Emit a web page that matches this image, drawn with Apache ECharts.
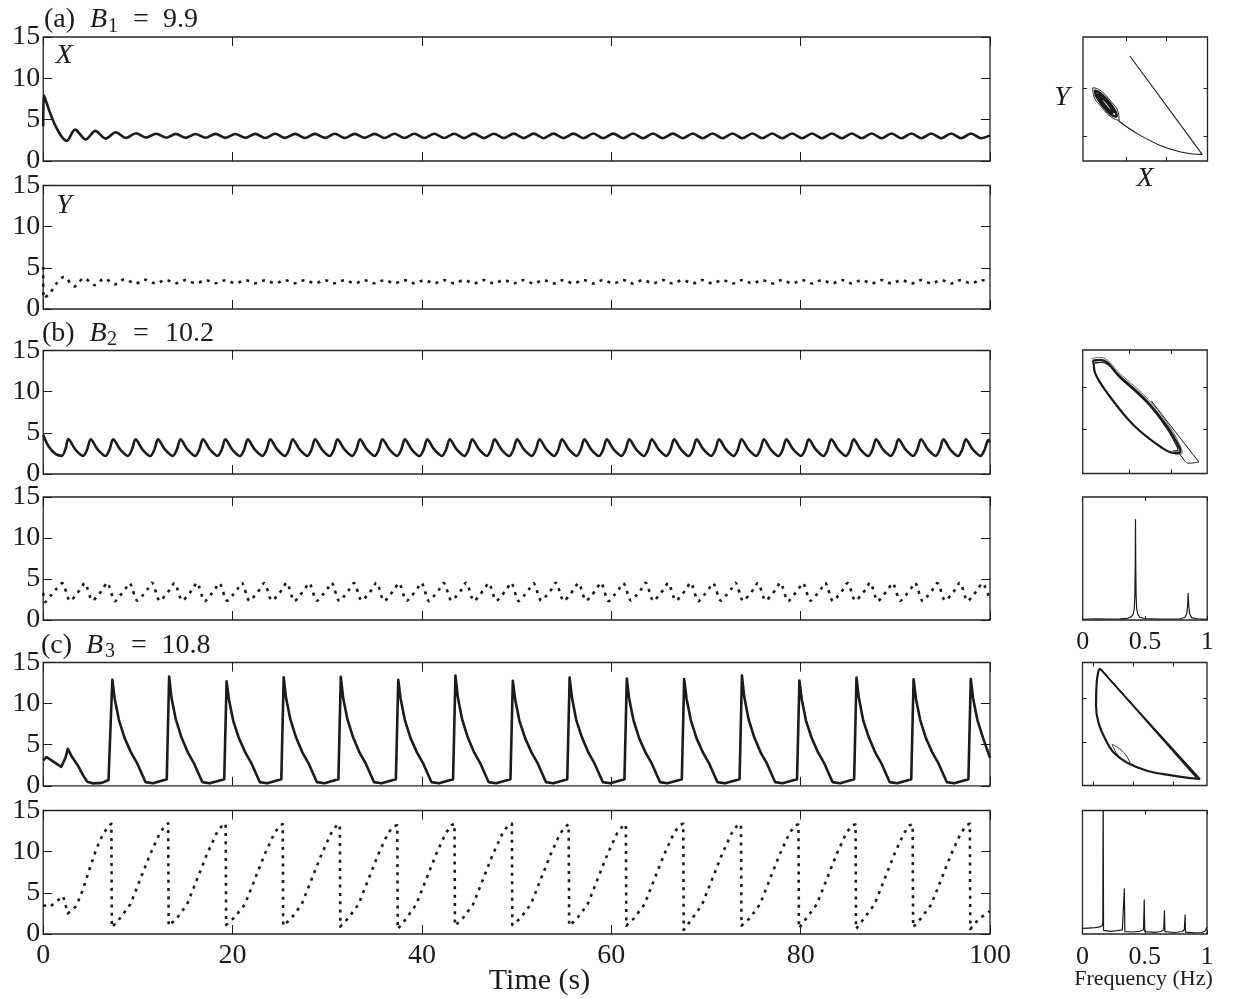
<!DOCTYPE html>
<html>
<head>
<meta charset="utf-8">
<script src="https://cdn.jsdelivr.net/npm/echarts@6/dist/echarts.min.js"></script>
<style>
  html, body { margin: 0; padding: 0; background: #fff; }
  #chart { width: 1237px; height: 999px; }
</style>
</head>
<body>
<div id="chart"></div>
<script>
// ---------- time series: (t [s], value) ----------
const aX = [[0,4.2],[0.08,7.95],[0.4,6.9],[0.9,5.3],[1.4,4.0],[1.95,2.95],[2.47,2.43],[3.36,3.8],[4.5,2.6],[5.5,3.64],[6.6,2.71],[7.65,3.48],[8.74,2.79],[9.8,3.36],[10.87,2.83],[11.93,3.3],[12.98,2.82],
[14.0,3.28],[15.05,2.8],[16.1,3.27],[17.15,2.81],[18.2,3.28],[19.25,2.8],[20.3,3.27],[21.35,2.8],[22.4,3.28],[23.45,2.79],[24.5,3.29],[25.55,2.8],[26.6,3.28],[27.65,2.79],[28.7,3.28],[29.75,2.8],[30.8,3.29],[31.85,2.79],[32.9,3.28],[33.95,2.8],[35.0,3.28],[36.05,2.79],[37.1,3.29],[38.15,2.78],[39.2,3.3],[40.25,2.78],[41.3,3.3],[42.35,2.78],[43.4,3.3],[44.45,2.77],[45.5,3.31],[46.55,2.77],[47.6,3.3],[48.65,2.77],[49.7,3.31],[50.75,2.77],[51.8,3.31],[52.85,2.76],[53.9,3.31],[54.95,2.77],[56.0,3.31],[57.05,2.76],[58.1,3.32],[59.15,2.76],[60.2,3.31],[61.25,2.76],[62.3,3.32],[63.35,2.76],[64.4,3.32],[65.45,2.76],[66.5,3.31],[67.55,2.76],[68.6,3.32],[69.65,2.75],[70.7,3.32],[71.75,2.76],[72.8,3.32],[73.85,2.75],[74.9,3.32],[75.95,2.76],[77.0,3.32],[78.05,2.75],[79.1,3.32],[80.15,2.75],[81.2,3.32],[82.25,2.76],[83.3,3.32],[84.35,2.75],[85.4,3.32],[86.45,2.75],[87.5,3.32],[88.55,2.75],[89.6,3.33],[90.65,2.75],[91.7,3.32],[92.75,2.75],[93.8,3.32],[94.85,2.75],[95.9,3.32],[96.95,2.75],[98.0,3.32],[99.05,2.75],[100,3.1]];

const aY = [[0,5.1],[0.05,1.3],[0.7,1.9],[1.4,3.1],[2.2,3.9],[3.3,2.75],[4.3,3.75],[5.45,2.9],[6.45,3.7],[7.6,3.0],[8.6,3.62],[9.75,3.08],[10.75,3.56],[11.9,3.1],[12.95,3.53],[14.0,3.12],[15.05,3.52],[16.1,3.12],[17.15,3.5],[18.2,3.13],[19.25,3.5],[20.3,3.13],[21.35,3.5],[22.4,3.13],[23.45,3.5],[24.5,3.13],[25.55,3.5],[26.6,3.13],[27.65,3.5],[28.7,3.13],[29.75,3.5],[30.8,3.13],[31.85,3.5],[32.9,3.12],[33.95,3.5],[35.0,3.12],[36.05,3.51],[37.1,3.12],[38.15,3.51],[39.2,3.12],[40.25,3.51],[41.3,3.11],[42.35,3.51],[43.4,3.11],[44.45,3.51],[45.5,3.11],[46.55,3.52],[47.6,3.11],[48.65,3.51],[49.7,3.11],[50.75,3.52],[51.8,3.1],[52.85,3.52],[53.9,3.11],[54.95,3.52],[56.0,3.1],[57.05,3.52],[58.1,3.1],[59.15,3.52],[60.2,3.1],[61.25,3.52],[62.3,3.1],[63.35,3.52],[64.4,3.1],[65.45,3.52],[66.5,3.1],[67.55,3.52],[68.6,3.1],[69.65,3.52],[70.7,3.1],[71.75,3.52],[72.8,3.1],[73.85,3.52],[74.9,3.1],[75.95,3.52],[77.0,3.1],[78.05,3.52],[79.1,3.1],[80.15,3.52],[81.2,3.1],[82.25,3.52],[83.3,3.1],[84.35,3.52],[85.4,3.1],[86.45,3.52],[87.5,3.1],[88.55,3.52],[89.6,3.1],[90.65,3.52],[91.7,3.1],[92.75,3.52],[93.8,3.1],[94.85,3.52],[95.9,3.1],[96.95,3.52],[98.0,3.1],[99.05,3.52],[100,3.3]];

const bX = [[0,4.75],[0.6,3.3],[1.3,2.45],[1.95,2.2],[2.35,3.0],
[2.65,4.25],[3.4,2.95],[4.2,2.2],[4.63,2.95],[5.02,4.2],[5.77,2.95],[6.57,2.19],[7.0,2.95],
[7.39,4.22],[8.14,2.95],[8.94,2.2],[9.37,2.95],[9.76,4.2],[10.51,2.94],[11.31,2.19],[11.74,2.95],
[12.13,4.21],[12.88,2.95],[13.68,2.2],[14.11,2.95],[14.5,4.2],[15.25,2.95],[16.05,2.19],[16.48,2.95],
[16.87,4.22],[17.62,2.95],[18.42,2.2],[18.85,2.95],[19.24,4.2],[19.99,2.94],[20.79,2.19],[21.22,2.95],
[21.61,4.21],[22.36,2.95],[23.16,2.2],[23.59,2.95],[23.98,4.2],[24.73,2.95],[25.53,2.19],[25.96,2.95],
[26.35,4.22],[27.1,2.95],[27.9,2.2],[28.33,2.95],[28.72,4.2],[29.47,2.94],[30.27,2.19],[30.7,2.95],
[31.09,4.21],[31.84,2.95],[32.64,2.2],[33.07,2.95],[33.46,4.2],[34.21,2.95],[35.01,2.19],[35.44,2.95],
[35.83,4.22],[36.58,2.95],[37.38,2.2],[37.81,2.95],[38.2,4.2],[38.95,2.94],[39.75,2.19],[40.18,2.95],
[40.57,4.21],[41.32,2.95],[42.12,2.2],[42.55,2.95],[42.94,4.2],[43.69,2.95],[44.49,2.19],[44.92,2.95],
[45.31,4.22],[46.06,2.95],[46.86,2.2],[47.29,2.95],[47.68,4.2],[48.43,2.94],[49.23,2.19],[49.66,2.95],
[50.05,4.21],[50.8,2.95],[51.6,2.2],[52.03,2.95],[52.42,4.2],[53.17,2.95],[53.97,2.19],[54.4,2.95],
[54.79,4.22],[55.54,2.95],[56.34,2.2],[56.77,2.95],[57.16,4.2],[57.91,2.94],[58.71,2.19],[59.14,2.95],
[59.53,4.21],[60.28,2.95],[61.08,2.2],[61.51,2.95],[61.9,4.2],[62.65,2.95],[63.45,2.19],[63.88,2.95],
[64.27,4.22],[65.02,2.95],[65.82,2.2],[66.25,2.95],[66.64,4.2],[67.39,2.94],[68.19,2.19],[68.62,2.95],
[69.01,4.21],[69.76,2.95],[70.56,2.2],[70.99,2.95],[71.38,4.2],[72.13,2.95],[72.93,2.19],[73.36,2.95],
[73.75,4.22],[74.5,2.95],[75.3,2.2],[75.73,2.95],[76.12,4.2],[76.87,2.94],[77.67,2.19],[78.1,2.95],
[78.49,4.21],[79.24,2.95],[80.04,2.2],[80.47,2.95],[80.86,4.2],[81.61,2.95],[82.41,2.19],[82.84,2.95],
[83.23,4.22],[83.98,2.95],[84.78,2.2],[85.21,2.95],[85.6,4.2],[86.35,2.94],[87.15,2.19],[87.58,2.95],
[87.97,4.21],[88.72,2.95],[89.52,2.2],[89.95,2.95],[90.34,4.2],[91.09,2.95],[91.89,2.19],[92.32,2.95],
[92.71,4.22],[93.46,2.95],[94.26,2.2],[94.69,2.95],[95.08,4.2],[95.83,2.94],[96.63,2.19],[97.06,2.95],
[97.45,4.21],[98.2,2.95],[99.0,2.2],[99.43,2.95],[99.82,4.15],[100,3.85]];

const bY = [[0,3.3],[0.2,2.2],[0.75,2.9],[1.4,3.8],[2.0,4.5],
[2.85,2.3],[3.4,3.0],[3.95,3.8],[4.37,4.5],[5.22,2.35],[5.77,3.0],[6.32,3.8],[6.74,4.55],
[7.59,2.3],[8.14,3.0],[8.69,3.8],[9.11,4.5],[9.96,2.35],[10.51,3.0],[11.06,3.8],[11.48,4.55],
[12.33,2.3],[12.88,3.0],[13.43,3.8],[13.85,4.5],[14.7,2.35],[15.25,3.0],[15.8,3.8],[16.22,4.55],
[17.07,2.3],[17.62,3.0],[18.17,3.8],[18.59,4.5],[19.44,2.35],[19.99,3.0],[20.54,3.8],[20.96,4.55],
[21.81,2.3],[22.36,3.0],[22.91,3.8],[23.33,4.5],[24.18,2.35],[24.73,3.0],[25.28,3.8],[25.7,4.55],
[26.55,2.3],[27.1,3.0],[27.65,3.8],[28.07,4.5],[28.92,2.35],[29.47,3.0],[30.02,3.8],[30.44,4.55],
[31.29,2.3],[31.84,3.0],[32.39,3.8],[32.81,4.5],[33.66,2.35],[34.21,3.0],[34.76,3.8],[35.18,4.55],
[36.03,2.3],[36.58,3.0],[37.13,3.8],[37.55,4.5],[38.4,2.35],[38.95,3.0],[39.5,3.8],[39.92,4.55],
[40.77,2.3],[41.32,3.0],[41.87,3.8],[42.29,4.5],[43.14,2.35],[43.69,3.0],[44.24,3.8],[44.66,4.55],
[45.51,2.3],[46.06,3.0],[46.61,3.8],[47.03,4.5],[47.88,2.35],[48.43,3.0],[48.98,3.8],[49.4,4.55],
[50.25,2.3],[50.8,3.0],[51.35,3.8],[51.77,4.5],[52.62,2.35],[53.17,3.0],[53.72,3.8],[54.14,4.55],
[54.99,2.3],[55.54,3.0],[56.09,3.8],[56.51,4.5],[57.36,2.35],[57.91,3.0],[58.46,3.8],[58.88,4.55],
[59.73,2.3],[60.28,3.0],[60.83,3.8],[61.25,4.5],[62.1,2.35],[62.65,3.0],[63.2,3.8],[63.62,4.55],
[64.47,2.3],[65.02,3.0],[65.57,3.8],[65.99,4.5],[66.84,2.35],[67.39,3.0],[67.94,3.8],[68.36,4.55],
[69.21,2.3],[69.76,3.0],[70.31,3.8],[70.73,4.5],[71.58,2.35],[72.13,3.0],[72.68,3.8],[73.1,4.55],
[73.95,2.3],[74.5,3.0],[75.05,3.8],[75.47,4.5],[76.32,2.35],[76.87,3.0],[77.42,3.8],[77.84,4.55],
[78.69,2.3],[79.24,3.0],[79.79,3.8],[80.21,4.5],[81.06,2.35],[81.61,3.0],[82.16,3.8],[82.58,4.55],
[83.43,2.3],[83.98,3.0],[84.53,3.8],[84.95,4.5],[85.8,2.35],[86.35,3.0],[86.9,3.8],[87.32,4.55],
[88.17,2.3],[88.72,3.0],[89.27,3.8],[89.69,4.5],[90.54,2.35],[91.09,3.0],[91.64,3.8],[92.06,4.55],
[92.91,2.3],[93.46,3.0],[94.01,3.8],[94.43,4.5],[95.28,2.35],[95.83,3.0],[96.38,3.8],[96.8,4.55],
[97.65,2.3],[98.2,3.0],[98.75,3.8],[99.17,4.5],[100,2.45]];

const cX = [[0,3.1],[0.35,3.5],[1.0,3.0],[1.9,2.3],[2.35,3.4],[2.6,4.5],[3.0,3.6],[3.7,2.4],[4.2,1.3],[4.65,0.5],[5.2,0.3],[6.2,0.35],[6.9,0.7],
[7.05,0.8],[7.3,12.9],[7.55,10.6],[8.0,8.0],[8.6,5.8],[9.3,4.0],[9.9,2.8],[10.4,1.5],[10.8,0.45],[11.6,0.3],
[13.05,0.8],[13.3,13.3],[13.55,10.7],[14.0,8.1],[14.6,5.9],[15.3,4.0],[15.9,2.8],[16.4,1.5],[16.8,0.45],[17.6,0.3],
[19.12,0.8],[19.37,12.7],[19.62,10.5],[20.07,7.9],[20.67,5.8],[21.37,4.0],[21.97,2.8],[22.47,1.5],[22.87,0.45],[23.67,0.3],
[25.15,0.8],[25.4,13.2],[25.65,10.7],[26.1,8.1],[26.7,5.9],[27.4,4.0],[28.0,2.8],[28.5,1.5],[28.9,0.45],[29.7,0.3],
[31.18,0.8],[31.43,13.25],[31.68,10.7],[32.13,8.1],[32.73,5.9],[33.43,4.0],[34.03,2.8],[34.53,1.5],[34.93,0.45],[35.73,0.3],
[37.25,0.8],[37.5,12.9],[37.75,10.6],[38.2,8.0],[38.8,5.8],[39.5,4.0],[40.1,2.8],[40.6,1.5],[41.0,0.45],[41.8,0.3],
[43.29,0.8],[43.54,13.4],[43.79,10.8],[44.24,8.1],[44.84,5.9],[45.54,4.0],[46.14,2.8],[46.64,1.5],[47.04,0.45],[47.84,0.3],
[49.35,0.8],[49.6,12.76],[49.85,10.5],[50.3,7.9],[50.9,5.8],[51.6,4.0],[52.2,2.8],[52.7,1.5],[53.1,0.45],[53.9,0.3],
[55.35,0.8],[55.6,13.17],[55.85,10.7],[56.3,8.0],[56.9,5.9],[57.6,4.0],[58.2,2.8],[58.7,1.5],[59.1,0.45],[59.9,0.3],
[61.39,0.8],[61.64,13.05],[61.89,10.6],[62.34,8.0],[62.94,5.8],[63.64,4.0],[64.24,2.8],[64.74,1.5],[65.14,0.45],[65.94,0.3],
[67.45,0.8],[67.7,13.0],[67.95,10.6],[68.4,8.0],[69.0,5.8],[69.7,4.0],[70.3,2.8],[70.8,1.5],[71.2,0.45],[72.0,0.3],
[73.55,0.8],[73.8,13.4],[74.05,10.8],[74.5,8.1],[75.1,5.9],[75.8,4.0],[76.4,2.8],[76.9,1.5],[77.3,0.45],[78.1,0.3],
[79.62,0.8],[79.87,12.8],[80.12,10.5],[80.57,7.9],[81.17,5.8],[81.87,4.0],[82.47,2.8],[82.97,1.5],[83.37,0.45],[84.17,0.3],
[85.65,0.8],[85.9,13.17],[86.15,10.7],[86.6,8.0],[87.2,5.9],[87.9,4.0],[88.5,2.8],[89.0,1.5],[89.4,0.45],[90.2,0.3],
[91.68,0.8],[91.93,12.97],[92.18,10.6],[92.63,8.0],[93.23,5.8],[93.93,4.0],[94.53,2.8],[95.03,1.5],[95.43,0.45],[96.23,0.3],
[97.72,0.8],[97.97,13.0],[98.22,10.6],[98.67,8.0],[99.27,5.8],[100,3.4]];

const cY = [[0,3.5],[0.7,3.3],[2.1,4.6],[2.6,2.5],[3.5,3.4],[4.2,5.4],[4.9,7.9],[5.6,10.3],[6.3,12.1],[6.9,13.1],[7.2,13.4],
[7.25,0.8],[8.1,1.9],[9.2,3.6],[10.2,6.5],[11.3,9.7],[12.3,12.2],[12.9,13.2],[13.2,13.45],
[13.25,1.0],[14.1,1.9],[15.2,3.6],[16.2,6.5],[17.3,9.7],[18.3,12.2],[18.9,13.2],[19.27,13.4],
[19.32,1.1],[20.2,2.0],[21.3,3.6],[22.3,6.5],[23.4,9.7],[24.4,12.2],[25.0,13.2],[25.3,13.35],
[25.35,1.0],[26.2,1.9],[27.3,3.6],[28.3,6.5],[29.4,9.7],[30.4,12.2],[31.0,13.2],[31.33,13.3],
[31.38,0.9],[32.2,1.9],[33.3,3.6],[34.3,6.5],[35.4,9.7],[36.4,12.2],[37.0,13.1],[37.4,13.2],
[37.45,0.6],[38.3,1.8],[39.4,3.6],[40.4,6.5],[41.5,9.7],[42.5,12.2],[43.1,13.2],[43.44,13.4],
[43.49,1.0],[44.3,1.9],[45.4,3.6],[46.4,6.5],[47.5,9.7],[48.5,12.2],[49.1,13.2],[49.5,13.4],
[49.55,1.1],[50.4,1.9],[51.5,3.6],[52.5,6.5],[53.6,9.7],[54.6,12.2],[55.2,13.1],[55.5,13.3],
[55.55,1.0],[56.4,1.9],[57.5,3.6],[58.5,6.5],[59.6,9.7],[60.6,12.2],[61.2,13.1],[61.54,13.3],
[61.59,1.0],[62.4,1.9],[63.5,3.6],[64.5,6.5],[65.6,9.7],[66.6,12.2],[67.2,13.2],[67.6,13.4],
[67.65,0.5],[68.5,1.8],[69.6,3.6],[70.6,6.5],[71.7,9.7],[72.7,12.2],[73.3,13.2],[73.7,13.3],
[73.75,1.0],[74.6,1.9],[75.7,3.6],[76.7,6.5],[77.8,9.7],[78.8,12.2],[79.4,13.2],[79.77,13.3],
[79.82,0.7],[80.6,1.9],[81.7,3.6],[82.7,6.5],[83.8,9.7],[84.8,12.2],[85.4,13.2],[85.8,13.3],
[85.85,0.6],[86.7,1.9],[87.8,3.6],[88.8,6.5],[89.9,9.7],[90.9,12.2],[91.5,13.2],[91.83,13.3],
[91.88,0.8],[92.7,1.9],[93.8,3.6],[94.8,6.5],[95.9,9.7],[96.9,12.2],[97.5,13.2],[97.87,13.4],
[97.92,0.6],[98.8,1.8],[100,2.8]];

// ---------- phase portraits: (X, Y) ----------
const phaseALine   = [[4.2,5.3],[7.77,1.27]];
const phaseACurve  = [[7.77,1.27],[7.31,1.29],[6.66,1.38],[5.67,1.65],[4.69,2.06],[4.04,2.4],[3.62,2.67]];
const phaseAOuter  = [[3.67,2.67],[3.63,2.97],[3.23,3.48],[2.71,3.91],[2.37,4.0],[2.41,3.71],[2.81,3.2],[3.33,2.77],[3.67,2.67]];
const phaseAMid    = [[3.55,2.8],[3.49,3.02],[3.15,3.43],[2.74,3.78],[2.49,3.88],[2.55,3.66],[2.89,3.25],[3.3,2.89],[3.55,2.8]];
const phaseAInner  = [[3.39,2.96],[3.34,3.11],[3.1,3.39],[2.81,3.64],[2.65,3.72],[2.71,3.57],[2.94,3.29],[3.23,3.03],[3.39,2.96]];

const phaseBLine   = [[3.53,3.67],[4.67,2.24]];
const phaseBHook   = [[4.67,2.24],[4.43,2.21],[4.26,2.36],[4.18,2.5]];
const phaseBLoop   = [[2.13,4.61],[2.31,4.63],[2.79,4.23],[3.44,3.65],[3.92,3.06],[4.2,2.59],[4.23,2.47],[4.08,2.45],[3.76,2.59],[3.11,3.1],[2.55,3.76],[2.19,4.31],[2.15,4.55],[2.13,4.61]];
const phaseBTrack  = [[2.18,4.56],[2.35,4.57],[2.82,4.17],[3.45,3.6],[3.9,3.03],[4.15,2.6],[4.17,2.52],[4.05,2.5]];
const phaseBOuter  = [[2.1,4.66],[2.3,4.69],[2.8,4.29],[3.46,3.7],[3.96,3.08],[4.25,2.56],[4.27,2.44],[4.1,2.41]];

const phaseCDiag   = [[[0.8,13.4],[13.4,0.8]],[[0.85,13.3],[13.1,1.0]],[[0.9,13.35],[13.25,0.7]],[[0.75,13.45],[12.9,0.95]]];
const phaseCCurve  = [[13.4,0.8],[11.92,0.92],[9.78,1.19],[6.8,1.69],[4.23,2.64],[2.52,3.8],[1.46,5.34],[0.6,7.25],[0.3,9.18],[0.39,11.86],[0.6,13.1],[0.8,13.4]];
const phaseCSmall  = [[2.31,4.76],[3.76,3.84],[4.66,2.46],[3.2,3.38],[2.31,4.76]];

// ---------- spectra: (frequency [Hz], power) ----------
const specB = [[0,0.006],[0.05,0.008],[0.1,0.009],[0.2,0.008],[0.3,0.009],[0.36,0.014],[0.39,0.025],[0.405,0.045],[0.414,0.09],[0.419,0.2],[0.422,0.45],[0.424,0.817],[0.426,0.45],[0.429,0.2],[0.434,0.09],[0.443,0.045],[0.46,0.022],[0.5,0.012],[0.6,0.008],[0.7,0.008],[0.78,0.01],[0.82,0.02],[0.835,0.05],[0.842,0.11],[0.847,0.217],[0.852,0.11],[0.859,0.05],[0.875,0.02],[0.92,0.01],[1,0.006]];
const specC = [[0,0.045],[0.05,0.048],[0.1,0.052],[0.14,0.058],[0.158,0.068],[0.163,0.09],[0.166,1.25],[0.169,0.03],[0.175,0.02],[0.22,0.022],[0.28,0.027],[0.32,0.033],[0.33,0.045],[0.336,0.365],[0.34,0.02],[0.35,0.014],[0.4,0.016],[0.46,0.022],[0.49,0.035],[0.496,0.276],[0.5,0.02],[0.51,0.012],[0.58,0.013],[0.63,0.02],[0.652,0.035],[0.658,0.188],[0.662,0.02],[0.67,0.012],[0.74,0.012],[0.8,0.02],[0.818,0.035],[0.824,0.155],[0.828,0.015],[0.84,0.01],[0.9,0.01],[0.96,0.012],[0.985,0.025],[0.995,0.04],[1,0.055]];

// ---------- axis tick values ----------
const timeTicks = { min: 0, max: 100, interval: 20 };
const valueTicks = { min: 0, max: 15, interval: 5 };
const freqTicks = { min: 0, max: 1, interval: 0.5 };
const phaseAXTicks = [4, 6], phaseAYTicks = [2, 4];
const phaseBXTicks = [3, 4], phaseBYTicks = [3, 4];
const phaseCXTicks = [0, 5, 10], phaseCYTicks = [5, 10];

// ---------- layout & style ----------
const FONT = '"Liberation Serif","DejaVu Serif",serif';
const INK = '#1b1b1b';
const LX = 43.2, LW = 946.8, RX = 1083, RW = 124.5;

const grid = [], xAxis = [], yAxis = [], series = [];

function makeAxis(gi, pos, o) {
  const ax = {
    type: 'value', gridIndex: gi, position: pos,
    min: o.min, max: o.max,
    axisLine: { show: false, onZero: false }, splitLine: { show: false },
    axisTick: { show: o.tickLen > 0, inside: true, length: o.tickLen, lineStyle: { color: INK, width: 1 } },
    axisLabel: { show: false }
  };
  if (o.interval != null) ax.interval = o.interval;
  if (o.ticks) ax.axisTick.customValues = o.ticks;
  if (o.labels && (pos === 'bottom' || pos === 'left')) {
    ax.axisLabel = { show: true, fontFamily: FONT, fontSize: o.fontSize, color: INK, margin: o.margin, showMinLabel: true, showMaxLabel: true };
  }
  return ax;
}

function addPanel(left, top, width, height, xo, yo) {
  const gi = grid.length;
  grid.push({ left, top, width, height, show: true, borderColor: '#242424', borderWidth: 1.3, backgroundColor: 'transparent' });
  const xi = xAxis.length, yi = yAxis.length;
  xAxis.push(makeAxis(gi, 'bottom', xo), makeAxis(gi, 'top', xo));
  yAxis.push(makeAxis(gi, 'left', yo), makeAxis(gi, 'right', yo));
  return { xi, yi };
}

function addLine(p, data, width, opts) {
  opts = opts || {};
  series.push({
    type: 'line', xAxisIndex: p.xi, yAxisIndex: p.yi, data,
    showSymbol: false, symbol: 'none', animation: false, silent: true,
    smooth: opts.smooth || false, clip: true, z: 3,
    lineStyle: { color: opts.color || INK, width, type: opts.dash || 'solid', cap: 'butt', join: 'round' }
  });
}

const DOT = [3, 5.3];
const tX = Object.assign({ tickLen: 9, labels: false }, timeTicks);
const tXLab = Object.assign({ tickLen: 9, labels: true, fontSize: 28, margin: 8 }, timeTicks);
const tY = Object.assign({ tickLen: 9, labels: true, fontSize: 28, margin: 3 }, valueTicks);

// left column: six time panels
const rows = [[37, 124], [185.5, 123.5], [350.5, 123.5], [497, 123], [662.5, 123.3], [810.5, 123.5]];
const timeData = [[aX, false], [aY, true], [bX, false], [bY, true], [cX, false], [cY, true]];
rows.forEach((r, i) => {
  const p = addPanel(LX, r[0], LW, r[1], i === 5 ? tXLab : tX, tY);
  const d = timeData[i];
  const smooth = i < 4 ? 0.3 : false;
  addLine(p, d[0], 2.6, { smooth, dash: d[1] ? DOT : 'solid' });
});

// right column
const pa = addPanel(RX, 37, RW, 124,
  { min: 1.89, max: 8.03, ticks: phaseAXTicks, tickLen: 4 },
  { min: 1.0, max: 6.08, ticks: phaseAYTicks, tickLen: 4 });
addLine(pa, phaseALine, 1.1);
addLine(pa, phaseACurve, 1.1, { smooth: 0.4 });
addLine(pa, phaseAOuter, 1.0, { smooth: 0.5 });
addLine(pa, phaseAMid, 2.6, { smooth: 0.5 });
addLine(pa, phaseAInner, 3.2, { smooth: 0.5 });

const pb = addPanel(RX - 0.3, 350, RW, 123.5,
  { min: 1.89, max: 4.87, ticks: phaseBXTicks, tickLen: 4 },
  { min: 1.97, max: 4.86, ticks: phaseBYTicks, tickLen: 4 });
addLine(pb, phaseBLine, 1.0);
addLine(pb, phaseBHook, 1.0, { smooth: 0.4 });
addLine(pb, phaseBOuter, 0.9, { smooth: 0.4, color: '#555' });
addLine(pb, phaseBLoop, 2.2, { smooth: 0.4 });
addLine(pb, phaseBTrack, 1.4, { smooth: 0.4 });

const sb = addPanel(RX - 0.3, 497, RW, 123,
  Object.assign({ tickLen: 4, labels: true, fontSize: 26, margin: 9 }, freqTicks),
  { min: 0, max: 1, tickLen: 0 });
addLine(sb, specB, 1.2);

const pc = addPanel(RX - 0.5, 662.5, RW, 123,
  { min: -1.4, max: 14.26, ticks: phaseCXTicks, tickLen: 4 },
  { min: 0.04, max: 14.09, ticks: phaseCYTicks, tickLen: 4 });
phaseCDiag.forEach(seg => addLine(pc, seg, 1.2));
addLine(pc, phaseCCurve, 2.2, { smooth: 0.35 });
addLine(pc, phaseCSmall, 1.0, { smooth: 0.5, color: '#333' });

const sc = addPanel(RX - 0.5, 810.5, RW, 123.5,
  Object.assign({ tickLen: 4, labels: true, fontSize: 26, margin: 10 }, freqTicks),
  { min: 0, max: 1, tickLen: 0 });
addLine(sc, specC, 1.2);

// ---------- text ----------
function txt(x, y, s, size, italic, align) {
  return {
    type: 'text', x, y, z: 10, silent: true,
    style: {
      text: s, fill: INK,
      font: (italic ? 'italic ' : '') + size + 'px ' + FONT,
      textAlign: align || 'left', align: align || 'left',
      textVerticalAlign: 'middle', verticalAlign: 'middle'
    }
  };
}
function heading(base, tag, sub, val, xs) {
  const m = base - 9.5;
  return [
    txt(xs[0], m, tag, 28, false),
    txt(xs[1], m, 'B', 28, true),
    txt(xs[2], base + 4 - 6.8, sub, 20, false),
    txt(xs[3], m, '=', 28, false),
    txt(xs[4], m, val, 28, false)
  ];
}

const graphic = [].concat(
  heading(29.3, '(a)', '1', '9.9', [44, 90, 108, 133, 163]),
  heading(342.8, '(b)', '2', '10.2', [42, 89.5, 107, 133, 165]),
  heading(654.8, '(c)', '3', '10.8', [41, 86, 105, 131, 161.5]),
  [
    txt(64, 56, 'X', 28, true, 'center'),
    txt(64, 206, 'Y', 28, true, 'center'),
    txt(1062, 98, 'Y', 28, true, 'center'),
    txt(1145, 179, 'X', 28, true, 'center'),
    txt(539.5, 981, 'Time (s)', 30, false, 'center'),
    txt(1143.5, 979, 'Frequency (Hz)', 22, false, 'center')
  ]
);

const chart = echarts.init(document.getElementById('chart'), null, { renderer: 'canvas', width: 1237, height: 999 });
chart.setOption({
  backgroundColor: '#ffffff',
  animation: false,
  grid, xAxis, yAxis, series, graphic
});
</script>
</body>
</html>
